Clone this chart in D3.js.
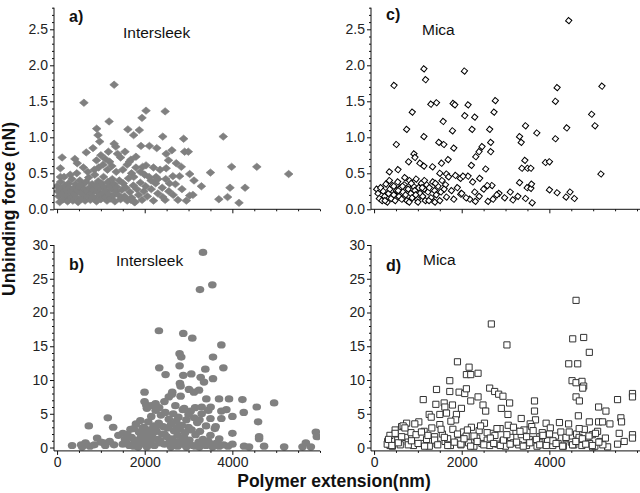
<!DOCTYPE html>
<html><head><meta charset="utf-8">
<script src="https://cdn.jsdelivr.net/npm/d3@7/dist/d3.min.js"></script>
<style>body{margin:0;background:#fff}svg{display:block}</style>
</head><body>
<svg id="chart" width="640" height="493"></svg>
<script>
// ---------- data ----------
const panelLabels = ["a)", "b)", "c)", "d)"];
const surfaceNames = ["Intersleek", "Intersleek", "Mica", "Mica"];
const xTickValues = [0, 2000, 4000];
const forceTicksTop = [0.0, 0.5, 1.0, 1.5, 2.0, 2.5];
const forceTicksBottom = [0, 5, 10, 15, 20, 25, 30];

// a) Intersleek, small forces [extension nm, force nN]
const intersleekA = [
[1302,1.73],[613,1.48],[2030,1.37],[2466,1.36],[1187,1.22],[1938,1.27],[904,1.12],[1616,1.11],[934,1.03],[1747,1.03],
[1877,1.10],[2412,1.01],[2888,0.98],[3792,1.01],[1302,0.91],[1340,0.87],[973,0.94],[820,0.85],[666,0.79],[1915,0.88],
[2107,0.88],[2275,0.85],[2620,0.82],[2911,0.80],[2995,0.80],[2490,0.77],[115,0.72],[406,0.70],[460,0.64],[1172,0.80],
[1379,0.77],[1685,0.69],[1800,0.73],[2030,0.61],[1953,0.59],[2543,0.68],[2720,0.64],[2835,0.59],[3983,0.59],[4558,0.59],
[5285,0.49],[3500,0.51],[3026,0.49],[2490,0.57],[2643,0.46],[2796,0.46],[3125,0.40],[3294,0.32],[3946,0.30],[4290,0.30],
[3026,0.19],[3692,0.14],[3891,0.17],[4152,0.09],[2758,0.13],[2466,0.13],[2412,0.17],[2566,0.36],[2260,0.45],[2145,0.40],
[1685,0.13],[1762,0.10],[77,0.57],[77,0.45],
[0,0.32],[20,0.25],[40,0.18],[60,0.10],[80,0.38],[100,0.28],[120,0.22],[140,0.14],[160,0.45],[180,0.33],
[200,0.27],[220,0.19],[240,0.11],[260,0.36],[280,0.30],[300,0.24],[320,0.16],[340,0.42],[360,0.12],[380,0.29],
[400,0.21],[420,0.35],[440,0.17],[460,0.26],[480,0.10],[500,0.31],[520,0.40],[540,0.23],[560,0.15],[580,0.34],
[600,0.20],[620,0.28],[640,0.12],[660,0.38],[680,0.25],[700,0.18],[720,0.44],[740,0.30],[760,0.13],[780,0.22],
[800,0.35],[820,0.27],[840,0.16],[860,0.48],[880,0.33],[900,0.11],[920,0.24],[940,0.39],[960,0.19],[980,0.29],
[1000,0.14],[1020,0.36],[1040,0.22],[1060,0.45],[1080,0.31],[1100,0.17],[1120,0.26],[1140,0.12],[1160,0.38],[1180,0.21],
[1200,0.33],[1220,0.15],[1240,0.28],[1260,0.42],[1280,0.19],[1300,0.35],[1320,0.11],[1340,0.25],[1360,0.31],[1400,0.20],
[1420,0.40],[1450,0.14],[1480,0.27],[1510,0.36],[1540,0.18],[1570,0.30],[1600,0.12],[1630,0.43],[1660,0.24],[1700,0.16],
[1740,0.33],[1780,0.10],[1820,0.28],[1860,0.20],[1900,0.37],[1940,0.13],[1980,0.25],[2020,0.32],[2060,0.18],[2100,0.45],
[2150,0.28],[2200,0.12],[2250,0.36],[2300,0.22],[2350,0.55],[2400,0.30],[1500,0.55],[1350,0.52],[1250,0.60],[1150,0.55],
[1050,0.62],[950,0.58],[850,0.55],[700,0.52],[600,0.58],[450,0.50],[300,0.48],[1600,0.62],[1700,0.50],[1800,0.58],
[1900,0.52],[2000,0.48],[2200,0.58],[2300,0.42],[1100,0.70],[1000,0.75],[900,0.68],[1200,0.66],[1450,0.72],[1550,0.80],
[1650,0.66],[1750,0.45],[2550,0.25],[2650,0.20],[2700,0.35],[2850,0.28],[2950,0.12],[3100,0.20],[2480,0.42]
];

// b) Intersleek, full force range
const intersleekB = [
[3330,28.9],[3261,23.4],[3543,24.1],[2324,17.3],[2880,16.9],[3086,16.2],[3749,15.2],[2796,13.9],[2834,13.4],[3558,13.4],
[2332,11.8],[3383,11.6],[3795,11.8],[2476,10.8],[2796,12.1],[2880,10.7],[3063,10.9],[3277,10.4],[3558,10.2],[2804,9.5],
[2819,9.1],[3010,8.6],[3124,8.2],[3238,8.5],[3353,9.7],[1996,8.2],[2629,8.2],[2819,7.6],[3406,7.2],[3696,7.2],
[3924,7.2],[4229,7.1],[4953,6.6],[2248,6.5],[1996,6.8],[2035,6.3],[3505,6.0],[4557,6.0],[3749,5.4],[3863,5.6],
[4260,5.2],[1158,4.4],[4001,4.6],[3749,4.3],[4587,3.8],[1280,3.0],[724,3.2],[1676,2.7],[1501,2.1],[3619,3.1],
[4001,2.1],[4610,1.6],[5905,2.3],[5928,1.6],[4610,1.3],[4001,0.5],[4267,0.2],[4381,0.1],[4724,0.2],[5182,0.1],
[343,0.3],[572,0.1],[648,0.7],[914,1.4],[1067,0.7],[5601,0.1],[5677,0.7],[5791,0.1],
[1500,0.5],[1550,1.2],[1600,2.0],[1650,0.3],[1700,1.5],[1750,2.8],[1780,0.8],[1800,3.5],[1820,1.1],[1850,0.2],
[1870,2.3],[1900,4.0],[1920,1.7],[1950,0.6],[1980,3.0],[2000,2.2],[2020,0.4],[2050,1.4],[2080,3.8],[2100,2.6],
[2120,0.9],[2150,4.6],[2170,1.9],[2200,3.2],[2220,0.3],[2250,5.5],[2270,2.4],[2300,1.2],[2320,3.6],[2350,0.7],
[2370,4.8],[2400,2.0],[2420,3.1],[2450,0.5],[2470,5.2],[2500,1.6],[2520,2.9],[2550,4.2],[2570,0.8],[2600,3.4],
[2620,1.3],[2650,5.0],[2670,2.5],[2700,0.4],[2720,3.9],[2750,1.8],[2770,4.5],[2800,2.7],[2820,0.9],[2850,3.3],
[2870,5.6],[2900,1.5],[2920,2.2],[2950,4.1],[2970,0.6],[3000,3.0],[3020,1.1],[3050,5.4],[3070,2.6],[3100,0.3],
[3130,4.4],[3160,1.9],[3200,3.7],[3230,0.8],[3260,2.4],[3300,5.0],[3330,1.2],[3360,0.4],[3400,3.2],[3450,0.9],
[3500,1.8],[3550,0.5],[3600,2.8],[3650,0.7],[3700,1.3],[3800,0.4],[3900,0.2],[1400,1.8],[1300,0.4],[1200,0.9],
[1100,0.3],[1000,0.8],[850,0.4],[750,0.2],[650,0.5],[550,0.4],[1600,0.6],[1750,0.2],[1950,2.9],[2050,5.8],
[2150,6.2],[2250,3.0],[2330,5.9],[2450,6.8],[2550,7.5],[2620,7.9],[2700,6.2],[2900,5.8],[3000,4.9],[3150,5.9],
[3300,6.0],[3450,5.5],[3500,4.3],[3250,4.1],[2350,1.0],[2650,1.0],[2750,0.2],[2950,0.1],[3150,0.2],[3250,0.1],
[3400,0.3],[3550,0.1],[2050,0.1],[1850,0.1],[1700,0.3],[2600,0.1],[2850,0.5],[3700,0.2],[2450,2.0],[2750,3.0],
[2150,1.2],[1900,1.0]
];

// c) Mica, small forces
const micaC = [
[4442,2.62],[1137,1.95],[2062,1.92],[1175,1.80],[455,1.72],[4177,1.69],[5200,1.71],[2767,1.51],[4139,1.50],[1425,1.48],
[1296,1.46],[1804,1.47],[1842,1.45],[2145,1.45],[2737,1.35],[872,1.35],[2069,1.30],[2297,1.28],[4965,1.32],[5041,1.16],
[1577,1.22],[3456,1.16],[4396,1.13],[743,1.11],[2236,1.11],[2638,1.11],[1789,1.09],[3714,1.06],[1137,1.01],[3320,1.01],
[4139,0.98],[508,0.90],[1478,0.93],[1592,0.90],[3358,0.93],[1819,0.85],[2464,0.87],[2661,0.93],[2661,0.80],[2395,0.80],
[2320,0.73],[910,0.77],[933,0.72],[788,0.66],[1046,0.64],[1137,0.60],[1334,0.59],[1539,0.64],[1690,0.69],[3441,0.68],
[3911,0.65],[4002,0.66],[2221,0.61],[2547,0.56],[546,0.55],[349,0.52],[3373,0.57],[3502,0.57],[3578,0.57],[5177,0.49],
[1501,0.50],[1653,0.49],[1857,0.47],[2145,0.46],[2410,0.43],[2691,0.33],[2585,0.33],[3320,0.37],[3494,0.30],[3578,0.29],
[3593,0.35],[4002,0.27],[4177,0.23],[4472,0.24],[4381,0.17],[4571,0.15],[2850,0.22],[3108,0.24],[2979,0.16],[3168,0.13],
[3282,0.18],[3456,0.15],[3608,0.09],[2600,0.11],[2714,0.14],[2312,0.11],[2183,0.14],[2297,0.24],[1978,0.21],[1819,0.14],
[1653,0.17],[1524,0.24],[1630,0.34],[1766,0.26],[1971,0.43],[2031,0.46],[1387,0.10],
[60,0.28],[90,0.22],[120,0.15],[150,0.30],[180,0.12],[210,0.25],[240,0.18],[270,0.35],[300,0.10],[330,0.22],
[360,0.28],[390,0.15],[420,0.33],[450,0.20],[480,0.12],[510,0.26],[540,0.38],[570,0.18],[600,0.30],[630,0.14],
[660,0.24],[690,0.34],[720,0.20],[750,0.12],[780,0.28],[810,0.40],[840,0.22],[870,0.16],[900,0.32],[930,0.26],
[960,0.42],[990,0.14],[1020,0.30],[1050,0.22],[1080,0.36],[1110,0.18],[1140,0.28],[1170,0.12],[1200,0.34],[1230,0.24],
[1260,0.30],[1300,0.16],[1340,0.38],[1380,0.26],[1420,0.20],[1460,0.32],[1500,0.12],[1550,0.40],[700,0.44],[800,0.10],
[1000,0.10],[850,0.36],[650,0.32],[550,0.26],[350,0.40],[250,0.12],[450,0.32],[1150,0.40],[950,0.20],[1100,0.30],
[1250,0.12],[1400,0.36],[1600,0.28],[1700,0.45],[1900,0.30],[2000,0.22],[2100,0.16],[2250,0.38],[2400,0.18],[2500,0.28],
[2800,0.20]
];

// d) Mica, full force range
const micaD = [
[4609,21.8],[2676,18.3],[3032,15.2],[4533,16.1],[4783,16.3],[4912,14.1],[1903,12.7],[2168,11.9],[2107,10.8],[2206,10.8],
[2373,11.0],[4442,12.4],[4647,12.4],[1728,9.9],[4518,9.9],[4609,9.6],[4745,9.8],[4783,9.1],[4761,8.8],[1425,8.6],
[1728,8.3],[1940,8.2],[2069,8.0],[2107,8.7],[2638,8.8],[2752,8.3],[2843,7.9],[2941,7.6],[2373,7.5],[2206,6.9],
[1122,7.1],[3661,6.9],[4609,7.5],[4685,6.9],[5556,7.1],[5897,8.0],[5897,7.5],[1410,6.4],[1600,6.6],[1615,6.0],
[1789,6.3],[1994,5.8],[2486,6.3],[3093,6.6],[2904,5.8],[3055,4.9],[2547,5.4],[5124,6.0],[5291,5.4],[3661,5.4],
[1258,4.9],[1501,4.9],[1653,5.1],[1880,4.9],[4662,4.7],[3358,4.3],[3684,4.1],[3563,3.5],[3926,3.6],[4912,3.8],
[5124,3.8],[5215,3.8],[5632,4.4],[5647,3.8],[5382,3.5],[5594,2.1],[5897,1.9],[5897,1.4],[5708,0.9],[5556,0.5],
[5329,0.1],[4988,0.1],[311,0.9],[364,0.3],[743,3.6],[629,3.1],
[300,0.5],[362,1.8],[418,0.2],[481,2.6],[540,1.1],[597,0.4],[663,3.2],[718,1.5],[779,0.8],[842,2.2],
[899,0.3],[958,1.9],[1021,3.8],[1079,0.6],[1142,2.4],[1198,1.2],[1261,0.2],[1318,2.9],[1382,1.6],[1439,0.5],
[1501,3.4],[1558,2.0],[1621,0.9],[1679,1.3],[1742,0.3],[1798,2.7],[1861,4.1],[1919,1.0],[1982,0.4],[2038,2.3],
[2101,1.7],[2158,0.7],[2221,3.0],[2279,0.2],[2342,1.4],[2398,2.5],[2461,0.6],[2519,3.6],[2582,1.1],[2638,0.3],
[2701,2.1],[2758,1.8],[2822,0.5],[2878,2.8],[2941,0.9],[2999,0.2],[3062,3.3],[3118,1.5],[3181,0.7],[3239,2.4],
[3302,0.4],[3358,1.9],[3421,2.6],[3479,0.3],[3542,1.2],[3598,3.1],[3661,0.8],[3719,0.2],[3782,1.6],[3838,2.2],
[3901,0.5],[3959,1.0],[4022,2.9],[4078,0.3],[4141,1.7],[4199,0.6],[4262,2.3],[4318,0.2],[4381,1.3],[4439,3.5],
[4502,0.8],[4558,0.4],[4621,2.0],[4679,1.5],[4742,0.3],[4798,2.7],[4861,1.1],[4919,0.6],[4982,1.9],[5038,0.2],
[5101,2.4],[5158,0.9],[5221,0.4],[5279,1.4],
[330,1.2],[406,0.3],[481,2.1],[553,0.7],[630,1.6],[704,2.9],[781,0.4],[853,1.0],[930,3.5],[1004,0.6],
[1081,2.3],[1153,0.2],[1230,1.8],[1304,4.5],[1381,1.1],[1453,0.4],[1530,2.7],[1604,1.5],[1681,0.3],[1753,3.9],
[1830,0.8],[1904,2.0],[1981,0.5],[2053,1.3],[2130,2.6],[2204,0.2],[2281,1.7],[2353,0.9],[2430,3.2],[2504,0.4],
[2581,2.2],[2653,1.4],[2730,0.6],[2804,2.8],[2881,0.3],[2953,1.1],[3030,1.9],[3104,0.5],[3181,3.0],[3253,0.8],
[3330,2.4],[3404,0.2],[3481,1.6],[3553,0.7],[3630,2.5],[3704,1.2],[3781,0.4],[3853,1.8],[3930,0.3],[4004,2.0],
[4081,1.0],[4153,0.6],[4230,3.7],[4304,0.2],[4381,1.5],[4453,2.3],[4530,0.4],[4604,0.9],[4681,2.8],[4753,1.3],
[4830,0.5],[4904,1.7],[4981,0.3],[5053,2.1],[5130,0.8]
];

// ---------- drawing ----------
const svg = d3.select("#chart");
const font = "'Liberation Sans', Arial, sans-serif";
const tickColor = "#222";

const panels = [
  {data: intersleekA, x0: 54, x1: 320, top: 7.7, bottom: 209.3, yDom: [0, 2.8], yTicks: forceTicksTop, yMinor: 0.1, labels: false, kind: "filledDiamond", lblY: 22, nameX: 123, nameY: 38},
  {data: intersleekB, x0: 54, x1: 320, top: 245, bottom: 450.9, yDom: [-0.5, 30], yTicks: forceTicksBottom, yMinor: 1, labels: true, kind: "filledEllipse", lblY: 270, nameX: 116, nameY: 266},
  {data: micaC, x0: 371, x1: 640, top: 7.7, bottom: 209.3, yDom: [0, 2.8], yTicks: forceTicksTop, yMinor: 0.1, labels: false, kind: "openDiamond", lblY: 20, nameX: 422, nameY: 35},
  {data: micaD, x0: 371, x1: 640, top: 245, bottom: 450.9, yDom: [-0.5, 30], yTicks: forceTicksBottom, yMinor: 1, labels: true, kind: "openSquare", lblY: 271, nameX: 423, nameY: 265}
];

panels.forEach((p, i) => {
  const xDomMax = -70 + (p.x1 - p.x0) * 6070 / 266;
  const x = d3.scaleLinear().domain([-70, xDomMax]).range([p.x0, p.x1]);
  const y = d3.scaleLinear().domain(p.yDom).range([p.bottom, p.top]);
  const g = svg.append("g");
  const clipId = "clip" + i;
  svg.append("clipPath").attr("id", clipId).append("rect")
    .attr("x", p.x0).attr("y", 0).attr("width", p.x1 - p.x0).attr("height", p.bottom + 1);

  // markers
  const mk = g.append("g").attr("clip-path", `url(#${clipId})`);
  const pts = mk.selectAll("g.pt").data(p.data).enter().append("g")
    .attr("transform", d => `translate(${x(d[0])},${y(d[1])})`);
  if (p.kind === "filledDiamond") {
    pts.append("path").attr("d", d3.symbol(d3.symbolSquare, 30)())
      .attr("transform", "scale(1.12,0.95) rotate(45)").attr("fill", "#808080").attr("stroke", "#808080").attr("stroke-width", 0.6);
  } else if (p.kind === "filledEllipse") {
    pts.append("ellipse").attr("rx", 4.3).attr("ry", 3.6).attr("fill", "#808080");
  } else if (p.kind === "openDiamond") {
    pts.append("path").attr("d", d3.symbol(d3.symbolSquare, 20)())
      .attr("transform", "rotate(40)").attr("fill", "#fff").attr("stroke", "#000").attr("stroke-width", 1);
  } else {
    pts.append("path").attr("d", d3.symbol(d3.symbolSquare, 38)())
      .attr("fill", "#fff").attr("stroke", "#333").attr("stroke-width", 1);
  }

  // x axis (major + minor)
  const xMinor = d3.range(0, 6001, 500).filter(v => xTickValues.indexOf(v) < 0 && x(v) <= p.x1);
  const xAxisMajor = d3.axisBottom(x).tickValues(xTickValues).tickSize(4).tickSizeOuter(0)
    .tickFormat(p.labels ? d3.format("d") : () => "").tickPadding(2);
  const xAxisMinor = d3.axisBottom(x).tickValues(xMinor).tickSize(2).tickSizeOuter(0).tickFormat(() => "");
  const gx = g.append("g").attr("transform", `translate(0,${p.bottom})`).call(xAxisMajor);
  g.append("g").attr("transform", `translate(0,${p.bottom})`).call(xAxisMinor).select(".domain").remove();
  gx.select(".domain").attr("d", `M${p.x0},0H${p.x1}`);

  // y axis
  const yMinorVals = d3.range(0, p.yDom[1] + 1e-9, p.yMinor)
    .map(v => +v.toFixed(3)).filter(v => p.yTicks.every(t => Math.abs(t - v) > 1e-6));
  const yAxisMajor = d3.axisLeft(y).tickValues(p.yTicks).tickSize(4).tickSizeOuter(0).tickPadding(2)
    .tickFormat(p.yMinor < 1 ? d3.format(".1f") : d3.format("d"));
  const yAxisMinor = d3.axisLeft(y).tickValues(yMinorVals).tickSize(2).tickSizeOuter(0).tickFormat(() => "");
  const gy = g.append("g").attr("transform", `translate(${p.x0},0)`).call(yAxisMajor);
  g.append("g").attr("transform", `translate(${p.x0},0)`).call(yAxisMinor).select(".domain").remove();
  gy.select(".domain").attr("d", `M0,${p.top}V${p.bottom}`);

  g.selectAll(".domain, .tick line").attr("stroke", "#111").attr("stroke-width", 1);
  g.selectAll(".tick text").attr("font-family", font).attr("font-size", 14).attr("fill", tickColor);

  // panel label and surface name
  g.append("text").attr("x", p.x0 + 15).attr("y", p.lblY).text(panelLabels[i])
    .attr("font-family", font).attr("font-weight", "bold").attr("font-size", 16).attr("fill", "#111");
  g.append("text").attr("x", p.nameX).attr("y", p.nameY).text(surfaceNames[i])
    .attr("font-family", font).attr("font-size", 15.5).attr("fill", "#111");
});

// axis titles
svg.append("text").attr("x", 334).attr("y", 487).attr("text-anchor", "middle")
  .attr("font-family", font).attr("font-weight", "bold").attr("font-size", 17.5).attr("fill", "#111")
  .text("Polymer extension(nm)");
svg.append("text").attr("transform", "translate(15,209) rotate(-90)").attr("text-anchor", "middle")
  .attr("font-family", font).attr("font-weight", "bold").attr("font-size", 17.5).attr("fill", "#111")
  .text("Unbinding force (nN)");
</script>
</body></html>
